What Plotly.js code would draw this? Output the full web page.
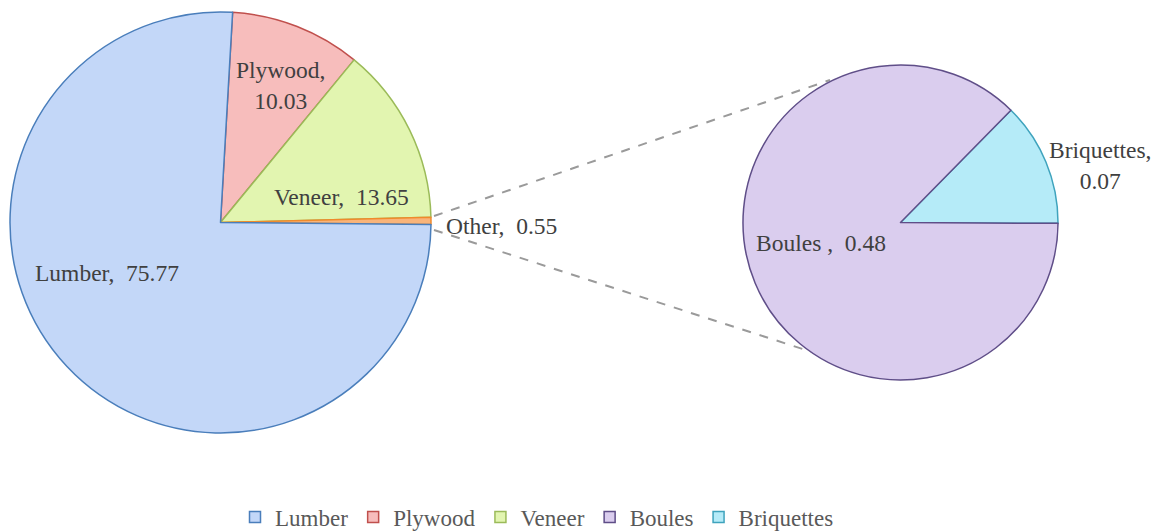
<!DOCTYPE html>
<html>
<head>
<meta charset="utf-8">
<script src="https://cdn.plot.ly/plotly-3.0.1.min.js"></script>
<style>html,body{margin:0;padding:0;background:#fff;}#chart{width:1162px;height:531px;}</style>
</head>
<body>
<div id="chart"></div>
<script>
// ---- data ----
var mainLabels = ["Plywood", "Veneer", "Other", "Lumber"];
var mainValues = [10.03, 13.65, 0.55, 75.77];
var subLabels = ["Briquettes", "Boules"];
var subValues = [0.07, 0.48];
var legendLabels = ["Lumber", "Plywood", "Veneer", "Boules", "Briquettes"];

// ---- styles ----
var W = 1162, H = 531;
var fillColors = {Lumber:"#c3d7f8", Plywood:"#f7bdbc", Veneer:"#e2f5b0", Other:"#f9b47a", Boules:"#dacdee", Briquettes:"#b5ebf8"};
var lineColors = {Lumber:"#4a7ebb", Plywood:"#c0504d", Veneer:"#9bbb59", Other:"#f08a2c", Boules:"#5f4e88", Briquettes:"#3fa3bd"};
var font = "Liberation Serif, Times New Roman, serif";
function px(x){return x / W;}
function py(y){return 1 - y / H;}

var traces = [];
traces.push({
  type: "pie", labels: mainLabels, values: mainValues, sort: false, direction: "clockwise",
  rotation: 3.3, textinfo: "none", hoverinfo: "label+value", showlegend: false,
  domain: {x: [px(10), px(431)], y: [py(433), py(12)]},
  marker: {colors: mainLabels.map(function(l){return fillColors[l];}),
           line: {color: mainLabels.map(function(l){return lineColors[l];}), width: 1.5}}
});
traces.push({
  type: "pie", labels: subLabels, values: subValues, sort: false, direction: "clockwise",
  rotation: 44.5, textinfo: "none", hoverinfo: "label+value", showlegend: false,
  domain: {x: [px(743), px(1058)], y: [py(380), py(65)]},
  marker: {colors: subLabels.map(function(l){return fillColors[l];}),
           line: {color: subLabels.map(function(l){return lineColors[l];}), width: 1.5}}
});
legendLabels.forEach(function(l){
  traces.push({type: "scatter", mode: "markers", x: [null], y: [null], name: l, showlegend: true,
    marker: {symbol: "square", size: 11, color: fillColors[l], line: {color: lineColors[l], width: 1.5}}});
});

function findVal(labels, values, name){ return values[labels.indexOf(name)]; }
var sp = "\u00a0 ";
var labelSpecs = [
  {t: "Plywood,<br>" + findVal(mainLabels, mainValues, "Plywood").toFixed(2), x: 280, y: 85},
  {t: "Veneer," + sp + findVal(mainLabels, mainValues, "Veneer").toFixed(2), x: 341, y: 197},
  {t: "Lumber," + sp + findVal(mainLabels, mainValues, "Lumber").toFixed(2), x: 107, y: 273},
  {t: "Other," + sp + findVal(mainLabels, mainValues, "Other").toFixed(2), x: 501, y: 226},
  {t: "Boules ," + sp + findVal(subLabels, subValues, "Boules").toFixed(2), x: 821, y: 243},
  {t: "Briquettes,<br>" + findVal(subLabels, subValues, "Briquettes").toFixed(2), x: 1100, y: 165}
];
var annotations = labelSpecs.map(function(s){
  return {text: s.t, x: px(s.x), y: py(s.y), xref: "paper", yref: "paper", xanchor: "center", yanchor: "middle",
          showarrow: false, font: {family: font, size: 23.5, color: "#404040"}};
});

var shapes = [
  {type: "line", xref: "paper", yref: "paper", x0: px(434), y0: py(216), x1: px(830), y1: py(80),
   line: {color: "#9a9a9a", width: 2, dash: "dash"}, layer: "below"},
  {type: "line", xref: "paper", yref: "paper", x0: px(434), y0: py(230), x1: px(812), y1: py(352),
   line: {color: "#9a9a9a", width: 2, dash: "dash"}, layer: "below"}
];

var layout = {
  width: W, height: H, margin: {l: 0, r: 0, t: 0, b: 0, pad: 0, autoexpand: false},
  paper_bgcolor: "#ffffff", plot_bgcolor: "#ffffff",
  xaxis: {visible: false}, yaxis: {visible: false},
  showlegend: true,
  legend: {orientation: "h", x: px(537), xanchor: "center", y: py(517), yanchor: "middle",
           font: {family: font, size: 23, color: "#595959"}, itemwidth: 30, bgcolor: "rgba(0,0,0,0)"},
  annotations: annotations, shapes: shapes
};

Plotly.newPlot("chart", traces, layout, {displayModeBar: false, staticPlot: true});
</script>
</body>
</html>
